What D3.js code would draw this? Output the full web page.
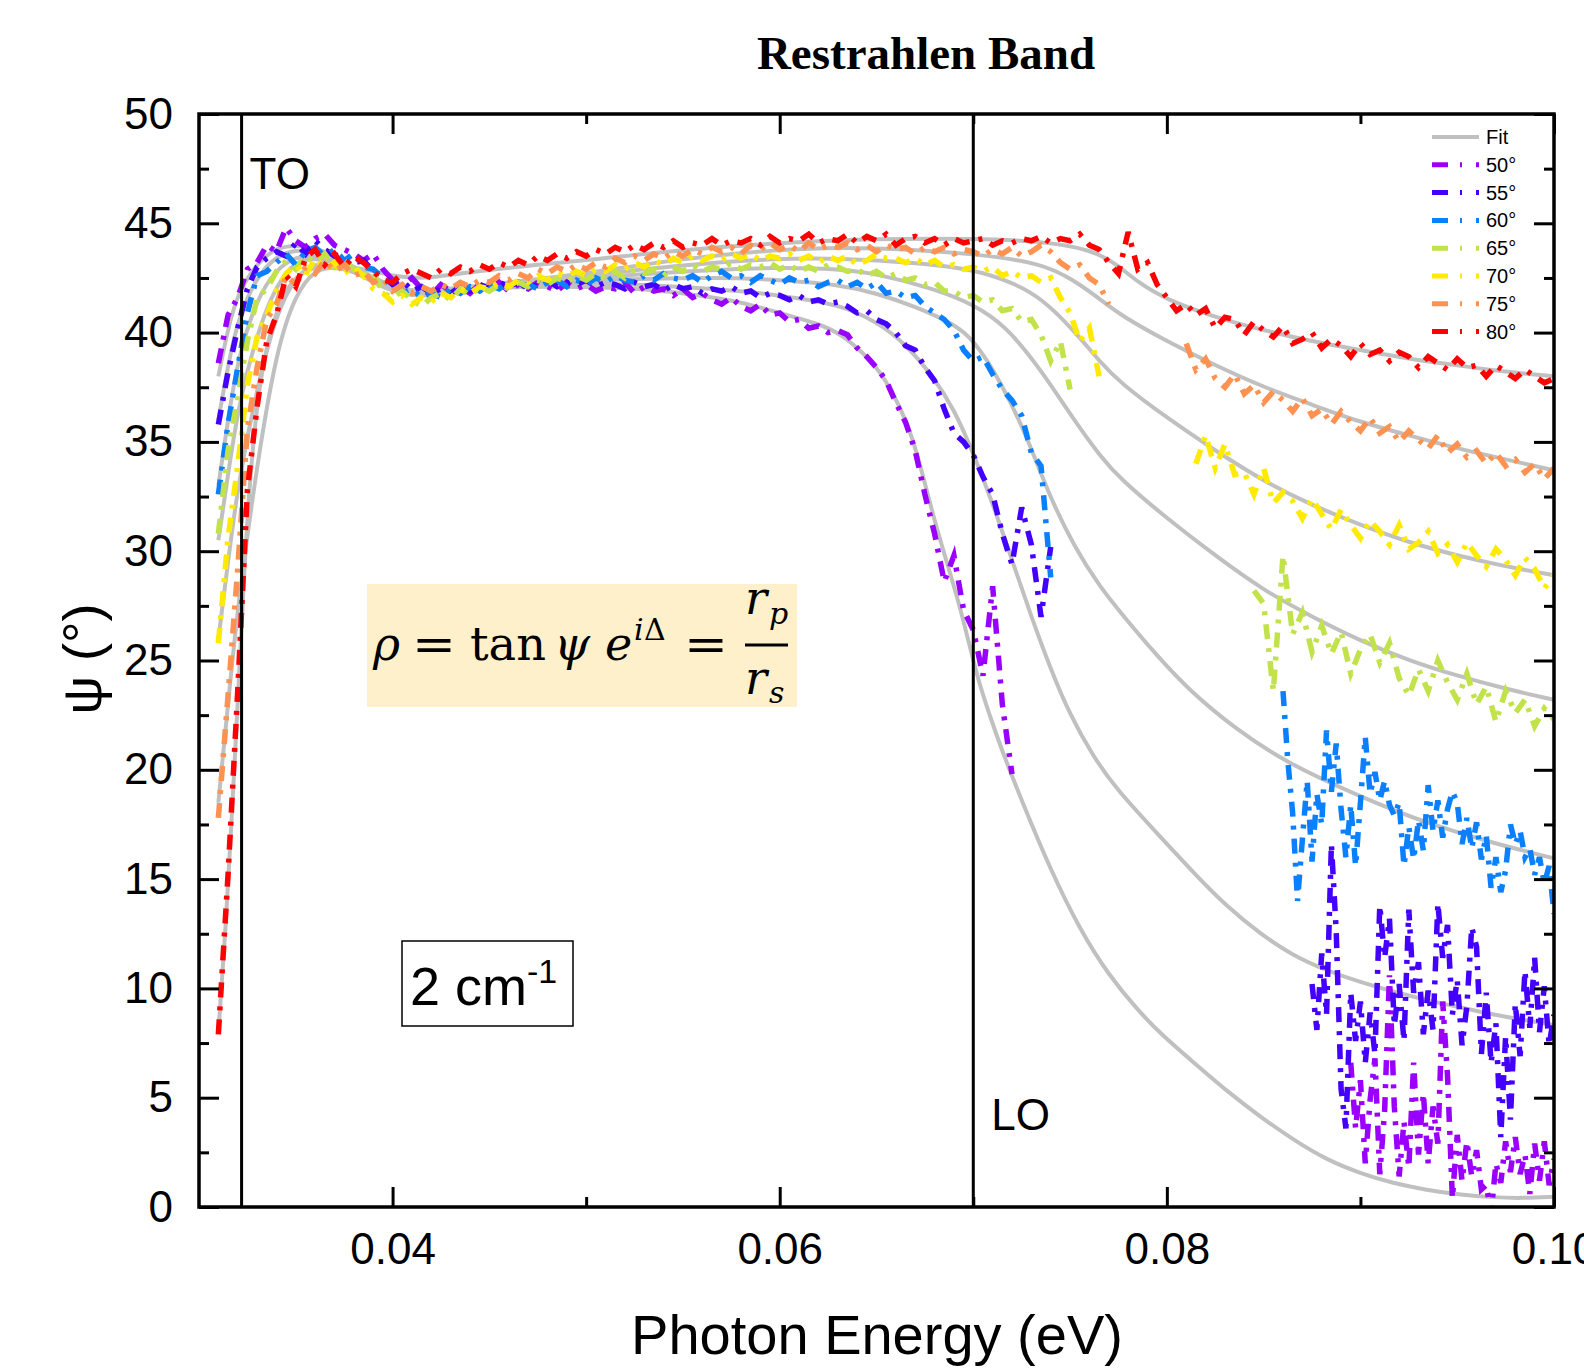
<!DOCTYPE html>
<html>
<head>
<meta charset="utf-8">
<script src="https://cdn.jsdelivr.net/npm/d3@7"></script>
<style>
  body { margin: 0; background: #fff; }
  svg { display: block; }
  .tick text { font-family: "Liberation Sans", Arial, sans-serif; }
</style>
</head>
<body>
<svg id="chart" width="1584" height="1371"></svg>
<script>
// Psi spectra of the Restrahlen band, 50..80 deg incidence, with model fits.

const angles = ['50°', '55°', '60°', '65°', '70°', '75°', '80°'];
const colors = ['#9900ff', '#4400ff', '#0a80ff', '#c2e24a', '#ffea00', '#ff9250', '#ff0000'];

const xMajor = [0.04, 0.06, 0.08, 0.10];
const xMinor = [0.05, 0.07, 0.09];
const yMajor = [0, 5, 10, 15, 20, 25, 30, 35, 40, 45, 50];
const yMinor = [2.5, 7.5, 12.5, 17.5, 22.5, 27.5, 32.5, 37.5, 42.5, 47.5];

const energyTO = 0.0322;
const energyLO = 0.0700;

// measured psi, sampled on a regular energy grid (start, step)
const gridStep = 0.0005;
const tailStep = 0.00025;

const psi50 = [38.6,40.8,41.6,42.9,43.2,44.0,43.7,44.8,44.2,43.9,
  44.3,44.5,44.0,43.8,43.6,43.3,43.6,42.9,42.4,42.1,
  42.5,42.0,41.7,42.2,41.9,42.1,41.8,42.2,42.0,42.3,
  41.9,42.2,42.0,42.3,42.1,41.9,42.3,42.0,42.2,41.9,
  42.1,42.0,42.3,41.8,42.1,41.9,42.0,41.7,42.0,41.6,
  41.8,41.5,41.3,41.6,41.2,41.0,41.3,40.8,40.9,40.5,
  40.6,40.2,40.3,40.0,40.1,39.9,39.3,38.9,38.4,37.8,
  36.8,35.9,34.6,32.6,30.8,28.6,29.8,27.3,26.4,24.3,
  28.4,23.0,19.8];
const psi50Tail = [6.6,3.6,5.8,2.0,4.9,6.8,1.5,4.4,10.6,4.6,
  1.4,3.9,1.8,6.6,2.4,5.2,2.0,4.6,2.9,9.4,
  6.0,0.4,3.3,1.2,3.0,1.4,2.6,0.8,1.0,-0.3,
  2.0,1.1,3.0,1.6,3.2,1.5,2.4,0.6,2.9,1.2,
  3.0,1.0,2.2];

const psi55 = [35.8,38.2,40.2,42.0,43.0,43.4,43.7,43.5,44.1,43.6,
  44.2,43.8,43.5,43.6,43.2,43.3,42.8,42.6,42.2,42.4,
  41.9,42.1,41.8,42.0,41.8,42.1,41.9,42.2,42.0,42.3,
  42.1,42.3,42.0,42.2,42.4,42.1,42.3,42.2,42.4,42.1,
  42.3,42.2,42.0,42.3,42.1,42.2,41.9,42.2,42.0,42.1,
  41.8,42.0,41.9,42.1,41.8,41.9,41.6,41.8,41.7,41.5,
  41.7,41.4,41.5,41.3,41.4,41.2,40.9,41.0,40.6,40.4,
  40.0,39.4,39.2,38.4,37.8,36.5,35.4,35.0,34.4,33.4,
  32.6,30.8,29.4,32.0,30.3,27.0,30.2];
const psi55Tail = [10.2,8.1,11.6,8.8,16.6,12.6,5.4,3.6,9.8,7.6,
  9.4,6.6,8.9,7.0,13.8,11.4,13.2,8.3,10.2,7.6,
  13.6,9.8,11.2,7.9,9.9,8.1,13.9,11.4,12.9,8.8,
  10.4,7.4,9.2,12.8,11.9,7.0,9.8,6.6,8.4,3.2,
  7.8,4.0,9.3,6.9,10.8,8.2,11.4,8.0,10.1,7.4,
  8.8];

const psi60 = [32.6,35.8,38.4,40.9,42.6,42.8,43.2,43.6,43.1,43.7,
  43.9,43.5,43.8,43.3,43.6,43.0,42.9,42.5,42.1,41.8,
  42.0,41.6,41.8,41.6,42.0,41.8,42.1,41.9,42.2,42.0,
  42.3,42.1,42.2,42.0,42.3,42.4,42.1,42.4,42.2,42.5,
  42.3,42.6,42.4,42.3,42.6,42.4,42.7,42.5,42.4,42.6,
  42.3,42.6,42.8,42.5,42.6,42.3,42.6,42.4,42.2,42.5,
  42.3,42.4,42.1,42.3,42.4,42.1,42.3,42.0,42.3,41.8,
  41.9,41.6,41.7,41.2,40.9,40.6,40.1,39.2,38.7,38.9,
  38.1,37.4,36.9,36.2,34.5,33.9,28.8];
const psi60Tail = [23.6,20.4,18.0,14.0,16.8,19.5,15.8,18.9,17.5,21.8,
  19.0,21.2,18.2,16.0,18.4,15.6,18.5,21.5,18.9,19.9,
  18.6,19.5,18.4,17.9,18.5,15.6,17.4,15.9,17.7,16.3,
  19.3,17.2,18.6,16.9,18.2,19.0,18.5,16.6,17.8,16.4,
  17.6,15.9,17.0,14.6,16.0,14.4,15.4,17.5,16.6,17.2,
  16.0,16.4,15.2,16.0,14.8,15.6,13.4];

const psi65 = [30.8,34.6,37.0,39.6,41.6,42.0,42.8,43.3,42.9,43.5,
  43.2,43.6,43.0,43.3,42.9,42.6,42.8,41.8,41.6,41.9,
  41.5,41.2,41.6,41.8,41.5,42.0,41.7,42.1,41.9,42.2,
  42.0,42.3,42.1,42.4,42.2,42.5,42.3,42.6,42.4,42.7,
  42.5,42.8,42.5,42.9,42.7,42.9,42.6,43.0,42.8,43.1,
  42.8,43.0,42.9,43.2,42.9,43.1,43.0,43.2,42.9,43.1,
  42.8,43.0,42.8,43.1,43.0,42.8,42.9,42.6,42.8,42.5,
  42.7,42.4,42.5,42.2,42.3,41.9,41.9,41.6,41.7,41.4,
  41.5,41.0,41.1,40.5,40.6,39.9,38.7,39.6,37.4];
const psi65Tail = [28.2,27.6,23.6,29.8,26.2,27.2,25.4,26.6,25.3,26.3,
  24.4,25.5,26.2,24.9,25.8,24.2,23.4,24.6,23.6,25.0,
  24.0,23.2,24.4,23.0,23.8,22.2,23.6,22.6,23.2,22.0,
  22.8,22.3];

const psi70 = [25.8,30.6,33.9,37.6,39.8,40.8,41.9,42.7,43.1,42.6,
  43.4,42.9,43.2,42.7,43.0,42.6,42.0,41.8,41.4,41.7,
  41.3,41.6,41.4,41.8,41.6,42.0,41.8,42.1,42.0,42.3,
  42.1,42.4,42.3,42.6,42.4,42.7,42.6,42.8,42.6,42.9,
  42.8,43.1,42.9,43.2,43.0,43.3,43.1,43.4,43.2,43.5,
  43.3,43.5,43.3,43.6,43.4,43.6,43.3,43.5,43.4,43.6,
  43.3,43.5,43.2,43.5,43.3,43.5,43.1,43.3,43.6,43.4,
  43.4,43.2,43.4,43.1,43.3,43.0,43.1,42.9,43.0,42.8,
  43.0,42.6,42.8,42.5,42.6,42.3,42.5,41.6,40.9,39.6,
  40.2,38.0];
const psi70Tail = [34.0,35.3,33.8,34.9,33.5,33.6,32.6,33.8,32.2,32.7,
  32.3,31.5,32.4,31.7,31.0,31.9,31.2,30.6,31.4,30.9,
  30.3,31.2,30.1,30.4,30.9,29.9,30.3,29.5,30.4,29.8,
  29.3,30.1,29.6,28.9,29.7,29.2,28.3,28.9];

const psi75 = [17.8,23.4,29.2,35.6,38.4,40.6,41.3,42.6,42.2,43.0,
  42.7,43.3,42.8,43.1,42.6,42.8,42.3,42.5,41.9,42.2,
  41.8,42.1,41.9,42.2,42.0,42.3,42.1,42.4,42.3,42.6,
  42.4,42.7,42.5,42.9,42.7,43.0,42.8,43.1,42.9,43.2,
  43.0,43.4,43.2,43.5,43.3,43.6,43.4,43.7,43.5,43.8,
  43.6,43.9,43.7,43.9,43.6,44.0,43.8,44.1,43.8,44.0,
  43.7,44.1,43.8,44.0,43.9,44.1,43.8,44.0,43.7,44.0,
  43.8,43.9,43.6,43.9,43.7,43.9,43.6,43.8,43.7,43.5,
  43.8,43.6,43.9,43.5,43.7,44.0,43.7,43.2,42.9,43.1,
  42.5,42.2,41.3];
const psi75Tail = [39.5,38.3,38.8,37.9,37.5,38.1,37.2,37.6,36.8,37.3,
  36.9,36.4,37.0,36.2,36.5,35.8,36.4,35.9,35.5,36.1,
  35.4,35.7,35.0,35.5,35.1,34.7,35.3,34.5,34.9,34.3,
  34.6,34.0,34.5,33.9,34.2,33.6,34.0,33.3,33.8];

const psi80 = [7.9,15.2,23.6,32.8,36.6,39.6,40.8,42.6,42.1,43.4,
  43.8,43.1,43.6,43.0,43.5,43.2,42.8,42.4,42.3,42.7,
  42.9,42.7,42.5,42.9,42.7,43.0,42.8,43.1,42.9,43.2,
  43.0,43.3,43.1,43.5,43.3,43.6,43.4,43.7,43.5,43.8,
  43.6,43.9,43.7,44.0,43.8,44.1,43.9,44.2,43.9,44.1,
  44.0,44.3,44.0,44.2,44.1,44.3,44.0,44.4,44.1,44.3,
  44.2,44.5,44.1,44.3,44.2,44.5,44.1,44.4,44.2,44.5,
  44.0,44.3,44.4,44.1,44.3,44.0,44.3,44.1,44.2,44.3,
  44.0,44.2,44.1,44.3,44.2,44.4,44.1,44.3,44.2,44.5,
  44.0,43.8,43.2,42.7,44.6,42.9,43.2,42.2,41.6,41.0,
  41.3,40.8,41.1,40.2,40.7,40.6,39.9,40.5,40.1,39.8,
  40.3,39.5,39.7,40.0,39.3,39.7,39.4,38.9,39.5,39.0,
  39.2,38.7,39.1,38.9,38.4,38.9,38.6,38.3,38.8,38.4,
  38.5,38.0,38.5,38.2,37.9,38.3,38.0,37.7,37.9];

// model fits, [energy eV, psi deg]
const fit50 = [[0.031,38.0],[0.0315,40.2],[0.032,41.8],[0.033,43.2],[0.034,43.9],[0.035,44.0],[0.036,43.9],
  [0.037,43.5],[0.038,43.0],[0.039,42.5],[0.040,42.1],[0.041,41.9],[0.042,41.9],[0.044,42.0],[0.047,42.1],
  [0.050,42.1],[0.053,42.0],[0.056,41.7],[0.058,41.4],[0.060,40.9],[0.062,40.4],[0.0631,40.0],[0.0648,38.7],
  [0.0657,37.5],[0.0666,35.9],[0.06725,34.0],[0.0679,31.7],[0.06863,29.5],[0.0693,27.5],[0.06983,25.6],
  [0.07035,23.8],[0.07104,22.0],[0.07156,20.7],[0.0725,18.6],[0.074,15.4],[0.0755,12.7],[0.077,10.6],
  [0.0785,9.0],[0.0797,7.9],[0.0814,6.6],[0.0831,5.3],[0.08482,4.13],[0.08654,3.07],[0.08827,2.15],
  [0.090,1.54],[0.0917,1.08],[0.0934,0.78],[0.0952,0.55],[0.0969,0.44],[0.0983,0.40],[0.100,0.47]];
const fit55 = [[0.031,36.0],[0.0315,38.5],[0.032,40.6],[0.033,42.6],[0.034,43.5],[0.035,43.8],[0.036,43.7],
  [0.037,43.4],[0.038,43.0],[0.039,42.5],[0.040,42.1],[0.041,41.9],[0.042,41.9],[0.044,42.0],[0.047,42.2],
  [0.050,42.3],[0.055,42.1],[0.058,41.9],[0.060,41.7],[0.0631,41.3],[0.065,40.5],[0.0665,39.5],[0.068,37.9],
  [0.069,36.5],[0.070,34.5],[0.071,32.2],[0.072,29.6],[0.073,27.0],[0.074,24.6],[0.075,22.5],[0.0762,20.6],
  [0.0774,19.1],[0.0797,16.9],[0.0814,15.27],[0.0831,13.74],[0.0848,12.52],[0.0865,11.50],[0.0883,10.80],
  [0.090,10.28],[0.0917,9.85],[0.0934,9.47],[0.0952,9.12],[0.0969,8.80],[0.0986,8.53],[0.100,8.33]];
const fit60 = [[0.031,33.0],[0.0315,36.0],[0.032,38.8],[0.033,41.6],[0.034,42.9],[0.035,43.5],[0.036,43.5],
  [0.037,43.3],[0.038,42.9],[0.039,42.4],[0.040,42.0],[0.041,41.8],[0.042,41.8],[0.044,42.0],[0.047,42.2],
  [0.050,42.4],[0.055,42.5],[0.058,42.5],[0.060,42.4],[0.0631,42.2],[0.065,41.8],[0.067,41.2],[0.069,40.4],
  [0.070,39.7],[0.0714,37.8],[0.0728,35.2],[0.0738,32.8],[0.0752,30.2],[0.0766,28.3],[0.0776,27.2],
  [0.0795,25.2],[0.0812,23.6],[0.0835,21.9],[0.0862,20.3],[0.090,18.77],[0.0934,17.55],[0.0969,16.64],[0.100,15.95]];
const fit65 = [[0.031,30.5],[0.0315,33.5],[0.032,36.5],[0.033,40.0],[0.034,42.2],[0.035,43.3],[0.036,43.4],
  [0.037,43.2],[0.038,42.8],[0.039,42.3],[0.040,41.9],[0.041,41.7],[0.042,41.7],[0.044,41.9],[0.047,42.2],
  [0.050,42.5],[0.055,42.8],[0.060,43.0],[0.0631,42.9],[0.065,42.7],[0.068,42.0],[0.070,41.3],[0.0717,40.3],
  [0.0735,38.3],[0.0752,36.0],[0.0766,34.3],[0.0776,33.3],[0.080,31.5],[0.0825,29.8],[0.085,28.2],
  [0.0875,27.0],[0.090,25.9],[0.0925,25.0],[0.095,24.3],[0.0975,23.7],[0.100,23.2]];
const fit70 = [[0.031,26.0],[0.0315,29.5],[0.032,33.0],[0.033,37.5],[0.034,40.9],[0.035,42.6],[0.036,43.2],
  [0.037,43.1],[0.038,42.8],[0.039,42.3],[0.040,41.9],[0.041,41.7],[0.042,41.7],[0.044,41.9],[0.047,42.3],
  [0.050,42.6],[0.055,43.1],[0.060,43.4],[0.0631,43.4],[0.067,43.2],[0.070,42.9],[0.072,42.3],[0.0735,41.6],
  [0.0752,40.1],[0.0766,38.6],[0.0776,37.7],[0.080,36.1],[0.0825,34.6],[0.085,33.2],[0.0875,32.1],
  [0.090,31.2],[0.0925,30.4],[0.095,29.8],[0.0975,29.3],[0.100,28.9]];
const fit75 = [[0.031,18.5],[0.0315,23.0],[0.032,27.5],[0.033,34.0],[0.034,39.2],[0.035,41.8],[0.036,42.9],
  [0.037,43.0],[0.038,42.8],[0.039,42.4],[0.040,42.1],[0.041,41.9],[0.042,41.9],[0.044,42.1],[0.047,42.4],
  [0.050,42.7],[0.055,43.4],[0.060,43.8],[0.0631,43.9],[0.067,43.8],[0.070,43.6],[0.0735,43.2],[0.0752,42.4],
  [0.0766,41.5],[0.0776,40.8],[0.080,39.6],[0.0825,38.5],[0.085,37.5],[0.0875,36.7],[0.090,35.9],
  [0.0925,35.3],[0.095,34.7],[0.0975,34.2],[0.100,33.7]];
const fit80 = [[0.031,8.0],[0.0314,13.0],[0.0317,18.0],[0.032,23.0],[0.0323,28.5],[0.0326,33.0],[0.033,36.8],
  [0.0334,39.0],[0.0339,40.7],[0.0345,42.0],[0.0352,42.7],[0.036,43.0],[0.037,43.1],[0.038,43.0],[0.039,42.8],
  [0.040,42.6],[0.041,42.5],[0.042,42.5],[0.045,42.9],[0.050,43.3],[0.055,43.8],[0.060,44.1],[0.065,44.3],
  [0.070,44.3],[0.0734,44.2],[0.0762,43.8],[0.0776,43.0],[0.0785,42.3],[0.080,41.5],[0.0825,40.7],
  [0.085,40.1],[0.0875,39.6],[0.090,39.2],[0.0925,38.8],[0.095,38.5],[0.0975,38.2],[0.100,38.0]];

const fits = [fit50, fit55, fit60, fit65, fit70, fit75, fit80];

// each angle: list of measured segments {start energy, step, values}
const series = [
  [{e0: 0.031, step: gridStep, v: psi50}, {e0: 0.0895, step: tailStep, v: psi50Tail}],
  [{e0: 0.031, step: gridStep, v: psi55}, {e0: 0.0875, step: tailStep, v: psi55Tail}],
  [{e0: 0.031, step: gridStep, v: psi60}, {e0: 0.0860, step: tailStep, v: psi60Tail}],
  [{e0: 0.031, step: gridStep, v: psi65}, {e0: 0.0845, step: gridStep, v: psi65Tail}],
  [{e0: 0.031, step: gridStep, v: psi70}, {e0: 0.0815, step: gridStep, v: psi70Tail}],
  [{e0: 0.031, step: gridStep, v: psi75}, {e0: 0.0810, step: gridStep, v: psi75Tail}],
  [{e0: 0.031, step: gridStep, v: psi80}]
];

const W = 1584, H = 1371;
const plot = {left: 199, right: 1554, top: 114, bottom: 1207};
const sans = '"Liberation Sans", Arial, sans-serif';
const dashDot = '15,9,4,9';

const x = d3.scaleLinear().domain([0.03, 0.10]).range([plot.left, plot.right]);
const y = d3.scaleLinear().domain([0, 50]).range([plot.bottom, plot.top]);

const svg = d3.select('#chart');
svg.append('rect').attr('width', W).attr('height', H).attr('fill', '#fff');

svg.append('defs').append('clipPath').attr('id', 'plot-clip')
  .append('rect')
  .attr('x', plot.left).attr('y', plot.top)
  .attr('width', plot.right - plot.left).attr('height', plot.bottom - plot.top);

// basis spline smooths over the read-off fit points
const fitLine = d3.line().x(d => x(d[0])).y(d => y(d[1])).curve(d3.curveBasis);
const dataLine = d3.line().x(d => x(d[0])).y(d => y(d[1]));

const inner = svg.append('g').attr('clip-path', 'url(#plot-clip)');

// fits underneath
inner.append('g').selectAll('path')
  .data(fits)
  .join('path')
  .attr('d', fitLine)
  .attr('fill', 'none')
  .attr('stroke', '#c0c0c0')
  .attr('stroke-width', 4);

// measured data, dash-dot
series.forEach((segs, k) => {
  let g = inner.append('g');
  segs.forEach(s => {
    let pts = s.v.map((v, i) => [s.e0 + i * s.step, v]);
    g.append('path')
      .attr('d', dataLine(pts))
      .attr('fill', 'none')
      .attr('stroke', colors[k])
      .attr('stroke-width', 5.5)
      .attr('stroke-dasharray', dashDot);
  });
});

// TO / LO markers
for (let e of [energyTO, energyLO]) {
  svg.append('line')
    .attr('x1', x(e)).attr('x2', x(e))
    .attr('y1', plot.top).attr('y2', plot.bottom)
    .attr('stroke', '#000').attr('stroke-width', 3);
}
svg.append('text').attr('x', x(energyTO) + 8).attr('y', 189)
  .attr('font-family', sans).attr('font-size', 44).text('TO');
svg.append('text').attr('x', x(energyLO) + 18).attr('y', 1130)
  .attr('font-family', sans).attr('font-size', 44).text('LO');

// axes, ticks pointing inward on all four sides
function addAxis(gen, tx, ty, labelled) {
  let g = svg.append('g').attr('transform', `translate(${tx},${ty})`).call(gen);
  g.select('.domain').remove();
  g.selectAll('.tick line').attr('stroke-width', 3);
  g.selectAll('.tick text').attr('font-size', 44).attr('fill', '#000');
  if (!labelled) g.selectAll('.tick text').remove();
  return g;
}
addAxis(d3.axisBottom(x).tickValues(xMajor).tickSize(-20).tickPadding(26).tickFormat(d3.format('.2f')), 0, plot.bottom, true);
addAxis(d3.axisBottom(x).tickValues(xMinor).tickSize(-10), 0, plot.bottom, false);
addAxis(d3.axisTop(x).tickValues(xMajor).tickSize(-20), 0, plot.top, false);
addAxis(d3.axisTop(x).tickValues(xMinor).tickSize(-10), 0, plot.top, false);
addAxis(d3.axisLeft(y).tickValues(yMajor).tickSize(-20).tickPadding(26), plot.left, 0, true);
addAxis(d3.axisLeft(y).tickValues(yMinor).tickSize(-10), plot.left, 0, false);
addAxis(d3.axisRight(y).tickValues(yMajor).tickSize(-20), plot.right, 0, false);
addAxis(d3.axisRight(y).tickValues(yMinor).tickSize(-10), plot.right, 0, false);

svg.append('rect')
  .attr('x', plot.left).attr('y', plot.top)
  .attr('width', plot.right - plot.left).attr('height', plot.bottom - plot.top)
  .attr('fill', 'none').attr('stroke', '#000').attr('stroke-width', 3.5);

// titles
svg.append('text')
  .attr('x', 926).attr('y', 69)
  .attr('text-anchor', 'middle')
  .attr('font-family', '"Liberation Serif", "Times New Roman", serif')
  .attr('font-weight', 'bold').attr('font-size', 47)
  .text('Restrahlen Band');

svg.append('text')
  .attr('x', 877).attr('y', 1354)
  .attr('text-anchor', 'middle')
  .attr('font-family', sans).attr('font-size', 56)
  .text('Photon Energy (eV)');

svg.append('text')
  .attr('transform', 'translate(101,659) rotate(-90)')
  .attr('text-anchor', 'middle')
  .attr('font-family', sans).attr('font-size', 54)
  .text('ψ (°)');

// legend
const legend = svg.append('g').attr('transform', 'translate(1432,137)');
const rowH = 27.8;
legend.append('line').attr('x1', 0).attr('x2', 47).attr('y1', 0).attr('y2', 0)
  .attr('stroke', '#c0c0c0').attr('stroke-width', 4);
legend.append('text').attr('x', 54).attr('y', 7)
  .attr('font-family', sans).attr('font-size', 20).text('Fit');
angles.forEach((a, k) => {
  let yy = (k + 1) * rowH;
  legend.append('line').attr('x1', 0).attr('x2', 47).attr('y1', yy).attr('y2', yy)
    .attr('stroke', colors[k]).attr('stroke-width', 5)
    .attr('stroke-dasharray', '16,12,2,14');
  legend.append('text').attr('x', 54).attr('y', yy + 7)
    .attr('font-family', sans).attr('font-size', 20).text(a);
});

// ellipsometric ratio annotation
const eq = svg.append('g');
eq.append('rect').attr('x', 367).attr('y', 584).attr('width', 430).attr('height', 123)
  .attr('fill', '#fff0cc');
const serif = '"DejaVu Serif", "Liberation Serif", serif';
function eqText(t, tx, ty, size, italic, len) {
  let el = eq.append('text').attr('x', tx).attr('y', ty)
    .attr('font-family', serif).attr('font-size', size)
    .attr('font-style', italic ? 'italic' : 'normal')
    .text(t);
  if (len) el.attr('textLength', len).attr('lengthAdjust', 'spacingAndGlyphs');
}
eqText('ρ', 373, 660, 46, true);
eqText('=', 412, 660, 46, false, 44);
eqText('tan', 470, 660, 46, false, 76);
eqText('ψ', 554, 660, 46, true);
eqText('e', 605, 660, 46, true);
eqText('i', 634, 640, 30, true);
eqText('Δ', 644, 640, 30, false);
eqText('=', 684, 660, 46, false, 44);
eq.append('line').attr('x1', 745).attr('x2', 788).attr('y1', 645).attr('y2', 645)
  .attr('stroke', '#000').attr('stroke-width', 3);
eqText('r', 745, 614, 46, true);
eqText('p', 769, 624, 30, true);
eqText('r', 745, 694, 46, true);
eqText('s', 769, 703, 30, true);

// resolution box
const res = svg.append('g');
res.append('rect').attr('x', 402).attr('y', 941).attr('width', 171).attr('height', 85)
  .attr('fill', '#fff').attr('stroke', '#000').attr('stroke-width', 1.5);
const resText = res.append('text').attr('x', 410).attr('y', 1005)
  .attr('font-family', sans).attr('font-size', 54);
resText.append('tspan').text('2 cm');
resText.append('tspan').attr('dy', -22).attr('font-size', 34).text('-1');
</script>
</body>
</html>
